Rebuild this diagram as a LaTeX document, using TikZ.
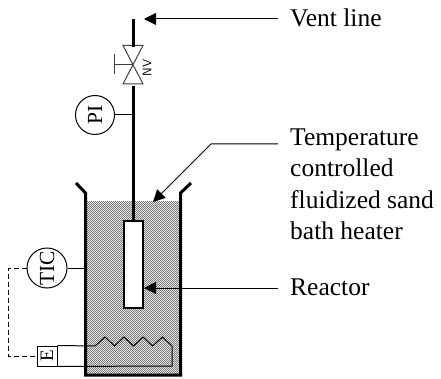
\documentclass[tikz,border=0pt]{standalone}
\usepackage{fontspec}
\setmainfont{Liberation Serif}
\usetikzlibrary{arrows.meta,patterns}
\pgfdeclarepatternformonly{sandstipple}{\pgfqpoint{-0.5pt}{-0.5pt}}{\pgfqpoint{2.5pt}{2.5pt}}{\pgfqpoint{2pt}{2pt}}{%
  \pgfpathrectangle{\pgfqpoint{0pt}{0pt}}{\pgfqpoint{1pt}{1pt}}%
  \pgfpathrectangle{\pgfqpoint{1pt}{1pt}}{\pgfqpoint{1pt}{1pt}}%
  \pgfusepath{fill}}
\tikzset{
  thick line/.style={line width=3pt},
  thin line/.style={line width=1pt},
  arrowline/.style={line width=1pt,-{Triangle[length=12pt,width=12pt]}},
  instr/.style={circle,draw,line width=1pt,minimum size=39pt,inner sep=0pt,font=\fontsize{21.5}{21.5}\selectfont,rotate=90},
  lab/.style={anchor=base west,font=\fontsize{25.5}{31}\selectfont,align=left,inner sep=0pt},
}
\begin{document}
\begin{tikzpicture}[x=1pt,y=-1pt]
\useasboundingbox (0,0) rectangle (441,379);
% sand
\path[pattern=sandstipple,pattern color=black!50] (86,202) rectangle (180,374);
% vessel
\draw[thick line,line join=miter] (76,183) -- (85.5,193) -- (85.5,375) -- (180.5,375) -- (180.5,193) -- (191,183);
% reactor
\node[draw,fill=white,line width=2pt,minimum width=19pt,minimum height=87pt,inner sep=0pt] (reactor) at (133.5,264.5) {};
% valve
\coordinate (vtop) at (133,47);
\coordinate (vbot) at (133,86);
\coordinate (vc) at (133,65);
\coordinate (tubetop) at (133,19);
\draw[line width=1pt,gray!50!black] (123,45.5) -- (143,45.5) -- (123,84) -- (143,84) -- cycle;
\draw[line width=1pt,gray!50!black] (vc) -- (114,65);
\draw[line width=1pt,gray!50!black] (114,54) -- (114,74.5);
\node[rotate=90,font=\sffamily\fontsize{12.5}{12.5}\selectfont,inner sep=0pt] (nv) at (147,68) {NV};
\draw[thick line] (tubetop) -- (vtop);
\draw[thick line] (vbot) -- (reactor.north -| vbot);
% PI
\node[instr] (pi) at (95,115) {PI};
\draw[thin line] (pi.south) -- (pi.south -| vc);
% TIC
\node[instr,minimum size=40pt] (tic) at (47,268) {TIC};
\draw[thin line] (tic.south) -- (85,268);
% element
\node[draw,line width=1pt,minimum width=20pt,minimum height=20pt,inner sep=0pt,font=\fontsize{19}{19}\selectfont] (e) at (47,356) {\rotatebox{90}{E}};
\draw[thin line,dash pattern=on 5pt off 3pt] (tic.north) -- (8,268) -- (8,356) -- (e.west);
% heater
\draw[thin line] (e.north east) -- (95,346) -- (105,337) -- (114.5,346) -- (124,337) -- (133.5,346) -- (143,337) -- (152.5,346) -- (162.5,337) -- (172,346) -- (172,366) -- (e.south east);
% labels
\node[lab] (vent) at (290,27) {Vent line};
\node[lab] (temp) at (290,146) {Temperature};
\node[lab] (temp2) at (290,177) {controlled};
\node[lab] (temp3) at (290,208) {fluidized sand};
\node[lab] (temp4) at (290,239) {bath heater};
\node[lab] (rlab) at (290,295) {Reactor};
\coordinate (ventend) at (278,19);
\coordinate (ventip) at (144,19);
\draw[arrowline] (ventend) -- (ventip);
\coordinate (rend) at (278,288);
\coordinate (rtip) at (144,288);
\draw[arrowline] (rend) -- (rtip);
\coordinate (tend) at (278,144);
\coordinate (tbend) at (211,144);
\coordinate (ttip) at (153,202);
\draw[arrowline] (tend) -- (tbend) -- (ttip);
\end{tikzpicture}
\end{document}
